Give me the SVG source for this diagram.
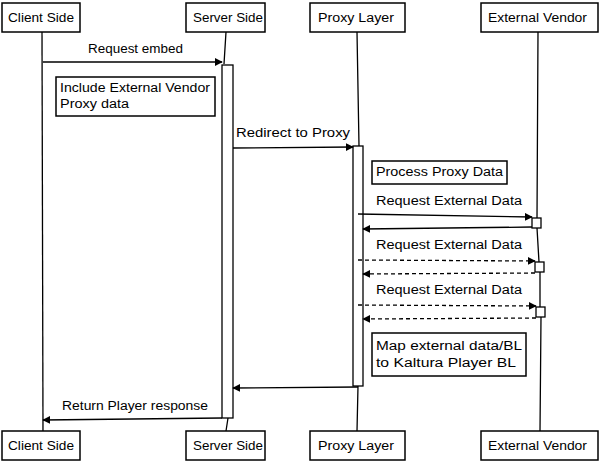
<svg xmlns="http://www.w3.org/2000/svg" width="600" height="466" viewBox="0 0 600 466">
<style>
.box{fill:#fff;stroke:#000;stroke-width:1.5}
.life{fill:none;stroke:#000;stroke-width:1.3}
.act{fill:#fff;stroke:#000;stroke-width:1.3}
.msg{fill:none;stroke:#000;stroke-width:1.3}
.dash{stroke-dasharray:4 3}
text{font-family:"Liberation Sans",Arial,sans-serif;font-size:12.5px;fill:#000}
.c{text-anchor:middle}
</style>
<defs>
<marker id="ah" viewBox="0 0 10 10" refX="9" refY="5" markerWidth="8" markerHeight="8" markerUnits="userSpaceOnUse" orient="auto">
<path d="M0,0 L10,5 L0,10 z" fill="#000"/>
</marker>
</defs>
<g id="lifelines">
<path class="life" d="M42,32 L43,431"/>
<path class="life" d="M226,32 L224,64 M228,418 L226,431"/>
<path class="life" d="M357,32 L359,146 M358,386 L357,431"/>
<path class="life" d="M538,32 L537,218 M537,228 L539,262 M540,272 L540,307 M541,317 L540,431"/>
</g>
<g id="activations">
<rect class="act" x="222" y="65" width="11" height="353"/>
<rect class="act" x="353" y="146" width="10" height="240"/>
<rect class="act" x="532" y="218" width="9" height="10"/>
<rect class="act" x="535" y="262" width="9" height="10"/>
<rect class="act" x="536" y="307" width="9" height="10"/>
</g>
<g id="connectors">
<path class="msg" d="M43,62 L222,62" marker-end="url(#ah)"/>
<text x="88" y="53" textLength="95" lengthAdjust="spacingAndGlyphs">Request embed</text>
<path class="msg" d="M233,148 L353,147" marker-end="url(#ah)"/>
<text x="236" y="137" textLength="114" lengthAdjust="spacingAndGlyphs">Redirect to Proxy</text>
<path class="msg" d="M358,214 L532,217" marker-end="url(#ah)"/>
<text x="376" y="205" textLength="146" lengthAdjust="spacingAndGlyphs">Request External Data</text>
<path class="msg" d="M532,227 L363,229" marker-end="url(#ah)"/>
<path class="msg dash" d="M358,260 L535,261" marker-end="url(#ah)"/>
<text x="376" y="249" textLength="146" lengthAdjust="spacingAndGlyphs">Request External Data</text>
<path class="msg dash" d="M535,273 L363,274" marker-end="url(#ah)"/>
<path class="msg dash" d="M358,305 L536,306" marker-end="url(#ah)"/>
<text x="376" y="294" textLength="146" lengthAdjust="spacingAndGlyphs">Request External Data</text>
<path class="msg dash" d="M536,318 L363,319" marker-end="url(#ah)"/>
<path class="msg" d="M358,387 L233,388" marker-end="url(#ah)"/>
<path class="msg" d="M222,418 L43,420" marker-end="url(#ah)"/>
<text x="62" y="410" textLength="146" lengthAdjust="spacingAndGlyphs">Return Player response</text>
</g>
<g id="note-include">
<rect class="box" x="56" y="77" width="159" height="39"/>
<text x="60" y="92" textLength="150" lengthAdjust="spacingAndGlyphs">Include External Vendor</text>
<text x="60" y="108" textLength="69" lengthAdjust="spacingAndGlyphs">Proxy data</text>
</g>
<g id="note-process">
<rect class="box" x="372" y="161" width="135" height="23"/>
<text x="376" y="176" textLength="127" lengthAdjust="spacingAndGlyphs">Process Proxy Data</text>
</g>
<g id="note-map">
<rect class="box" x="372" y="333" width="154" height="43"/>
<text x="376" y="350" textLength="146" lengthAdjust="spacingAndGlyphs">Map external data/BL</text>
<text x="376" y="367" textLength="140" lengthAdjust="spacingAndGlyphs">to Kaltura Player BL</text>
</g>
<g id="client-top"><rect class="box" x="2" y="3" width="78" height="29"/><text x="8" y="22" textLength="66" lengthAdjust="spacingAndGlyphs">Client Side</text></g>
<g id="server-top"><rect class="box" x="186" y="3" width="79" height="29"/><text x="193" y="22" textLength="70" lengthAdjust="spacingAndGlyphs">Server Side</text></g>
<g id="proxy-top"><rect class="box" x="310" y="3" width="95" height="29"/><text x="318" y="22" textLength="76" lengthAdjust="spacingAndGlyphs">Proxy Layer</text></g>
<g id="vendor-top"><rect class="box" x="481" y="3" width="117" height="29"/><text x="488" y="22" textLength="99" lengthAdjust="spacingAndGlyphs">External Vendor</text></g>
<g id="client-bottom"><rect class="box" x="2" y="431" width="78" height="29"/><text x="8" y="450" textLength="66" lengthAdjust="spacingAndGlyphs">Client Side</text></g>
<g id="server-bottom"><rect class="box" x="186" y="431" width="79" height="29"/><text x="193" y="450" textLength="70" lengthAdjust="spacingAndGlyphs">Server Side</text></g>
<g id="proxy-bottom"><rect class="box" x="310" y="431" width="95" height="29"/><text x="318" y="450" textLength="76" lengthAdjust="spacingAndGlyphs">Proxy Layer</text></g>
<g id="vendor-bottom"><rect class="box" x="481" y="431" width="117" height="29"/><text x="488" y="450" textLength="99" lengthAdjust="spacingAndGlyphs">External Vendor</text></g>
</svg>
